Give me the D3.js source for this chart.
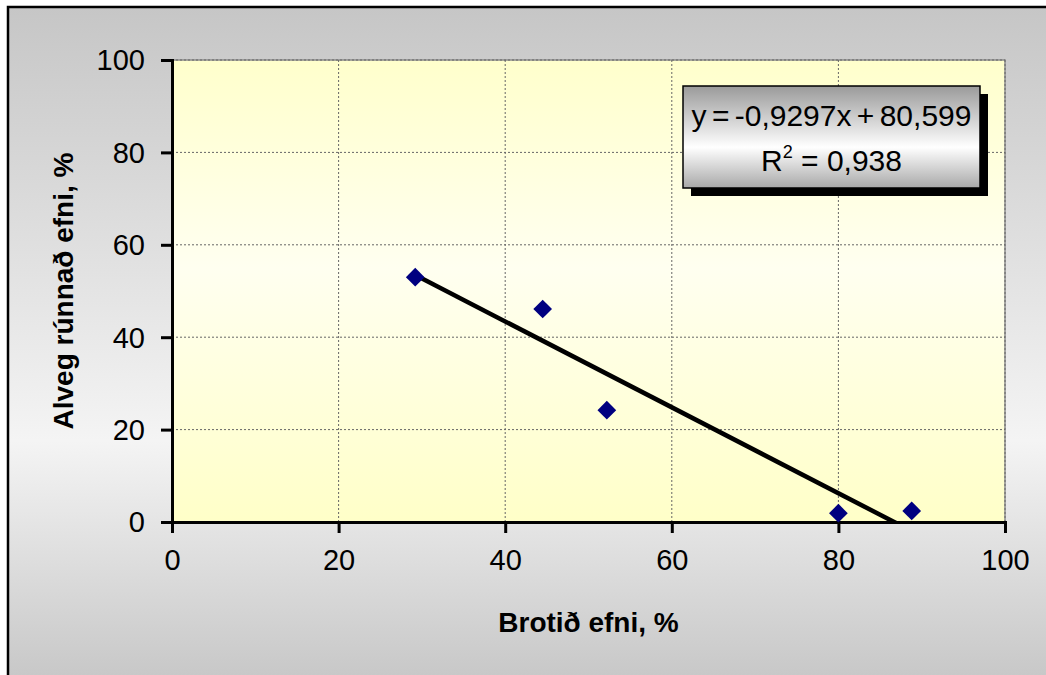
<!DOCTYPE html>
<html>
<head>
    <meta charset="utf-8">
    <title>Alveg rúnnað efni vs Brotið efni</title>
    <script src="https://d3js.org/d3.v7.min.js"></script>
    <style>
        body { margin: 0; background: #ffffff; }
        svg { display: block; font-family: "Liberation Sans", Arial, sans-serif; }
    </style>
</head>
<body>
    <div id="chart"></div>

    <script>
        // Data
        var brotid = [29.2, 44.5, 52.2, 80.0, 88.8];     // x: Brotið efni, %
        var runnad = [53.0, 46.1, 24.2, 1.9, 2.4];        // y: Alveg rúnnað efni, %
        var xTicks = [0, 20, 40, 60, 80, 100];
        var yTicks = [0, 20, 40, 60, 80, 100];

        // Linear trendline shown in the label
        var slope = -0.9297;
        var intercept = 80.599;
        var rSquared = "0,938";

        var width = 1046;
        var height = 675;
        var plot = { left: 172, top: 60, right: 1005, bottom: 522 };

        var svg = d3.select("#chart")
            .append("svg")
            .attr("width", width)
            .attr("height", height);

        var defs = svg.append("defs");

        // Gray background gradient of the chart area
        var bg = defs.append("linearGradient")
            .attr("id", "bgGrad")
            .attr("x1", 0).attr("y1", 0).attr("x2", 0).attr("y2", 1);
        bg.append("stop").attr("offset", "0").attr("stop-color", "#c6c6c6");
        bg.append("stop").attr("offset", "0.62").attr("stop-color", "#f4f4f4");
        bg.append("stop").attr("offset", "1").attr("stop-color", "#c2c2c2");

        // Light yellow plot area gradient
        var pg = defs.append("linearGradient")
            .attr("id", "plotGrad")
            .attr("x1", 0).attr("y1", 0).attr("x2", 0).attr("y2", 1);
        pg.append("stop").attr("offset", "0").attr("stop-color", "#ffffcc");
        pg.append("stop").attr("offset", "0.45").attr("stop-color", "#fffff0");
        pg.append("stop").attr("offset", "1").attr("stop-color", "#ffffc8");

        // Label box gradient
        var lg = defs.append("linearGradient")
            .attr("id", "labelGrad")
            .attr("x1", 0).attr("y1", 0).attr("x2", 0).attr("y2", 1);
        lg.append("stop").attr("offset", "0").attr("stop-color", "#9a9a9a");
        lg.append("stop").attr("offset", "0.6").attr("stop-color", "#ffffff");
        lg.append("stop").attr("offset", "1").attr("stop-color", "#a8a8a8");

        defs.append("clipPath")
            .attr("id", "plotClip")
            .append("rect")
            .attr("x", plot.left)
            .attr("y", plot.top)
            .attr("width", plot.right - plot.left)
            .attr("height", plot.bottom - plot.top);

        // Chart area
        svg.append("rect")
            .attr("x", 8)
            .attr("y", 7)
            .attr("width", 1100)
            .attr("height", 700)
            .attr("fill", "url(#bgGrad)")
            .attr("stroke", "#000")
            .attr("stroke-width", 2.5);

        // Scales
        var x = d3.scaleLinear().domain([0, 100]).range([plot.left, plot.right]);
        var y = d3.scaleLinear().domain([0, 100]).range([plot.bottom, plot.top]);

        // Plot area
        svg.append("rect")
            .attr("x", plot.left)
            .attr("y", plot.top)
            .attr("width", plot.right - plot.left)
            .attr("height", plot.bottom - plot.top)
            .attr("fill", "url(#plotGrad)")
            .attr("stroke", "#8a8a8a")
            .attr("stroke-width", 1.5);

        // Gridlines
        var grid = svg.append("g").attr("class", "grid");
        grid.selectAll("line.h")
            .data(yTicks.filter(function(d) { return d > 0; }))
            .enter()
            .append("line")
            .attr("class", "h")
            .attr("x1", plot.left)
            .attr("x2", plot.right)
            .attr("y1", function(d) { return y(d); })
            .attr("y2", function(d) { return y(d); })
            .attr("stroke", "#666")
            .attr("stroke-width", 1)
            .attr("stroke-dasharray", "2,2");
        grid.selectAll("line.v")
            .data(xTicks.filter(function(d) { return d > 0; }))
            .enter()
            .append("line")
            .attr("class", "v")
            .attr("y1", plot.top)
            .attr("y2", plot.bottom)
            .attr("x1", function(d) { return x(d); })
            .attr("x2", function(d) { return x(d); })
            .attr("stroke", "#666")
            .attr("stroke-width", 1)
            .attr("stroke-dasharray", "2,2");

        // Axes
        var xAxis = svg.append("g")
            .attr("transform", "translate(0," + plot.bottom + ")")
            .call(d3.axisBottom(x).tickValues(xTicks).tickSize(11).tickPadding(16));
        var yAxis = svg.append("g")
            .attr("transform", "translate(" + plot.left + ",0)")
            .call(d3.axisLeft(y).tickValues(yTicks).tickSize(11).tickPadding(16));

        [xAxis, yAxis].forEach(function(a) {
            a.select(".domain").attr("stroke", "#000").attr("stroke-width", 3);
            a.selectAll(".tick line").attr("stroke", "#000").attr("stroke-width", 3);
            a.selectAll(".tick text")
                .attr("fill", "#000")
                .style("font-size", "29px")
                .style("font-family", "'Liberation Sans', Arial, sans-serif");
        });
        yAxis.selectAll(".tick text").attr("dy", "0.34em");

        // Trendline, clipped to the plot area
        var xMin = d3.min(brotid), xMax = d3.max(brotid);
        svg.append("line")
            .attr("clip-path", "url(#plotClip)")
            .attr("x1", x(xMin))
            .attr("y1", y(slope * xMin + intercept))
            .attr("x2", x(xMax))
            .attr("y2", y(slope * xMax + intercept))
            .attr("stroke", "#000")
            .attr("stroke-width", 4.5);

        // Points (diamonds)
        var points = brotid.map(function(v, i) { return { x: v, y: runnad[i] }; });
        svg.selectAll("path.pt")
            .data(points)
            .enter()
            .append("path")
            .attr("class", "pt")
            .attr("d", d3.symbol().type(d3.symbolSquare).size(175))
            .attr("transform", function(d) {
                return "translate(" + x(d.x) + "," + y(d.y) + ") rotate(45)";
            })
            .attr("fill", "#000080");

        // Trendline label
        var box = { x: 683, y: 86, w: 297, h: 102 };
        svg.append("rect")
            .attr("x", box.x + 8)
            .attr("y", box.y + 8)
            .attr("width", box.w)
            .attr("height", box.h)
            .attr("fill", "#000");
        svg.append("rect")
            .attr("x", box.x)
            .attr("y", box.y)
            .attr("width", box.w)
            .attr("height", box.h)
            .attr("fill", "url(#labelGrad)")
            .attr("stroke", "#000")
            .attr("stroke-width", 1.5);

        var cx = box.x + box.w / 2;
        svg.append("text")
            .attr("x", cx)
            .attr("y", box.y + 40)
            .attr("text-anchor", "middle")
            .style("font-size", "30px")
            .style("word-spacing", "-3px")
            .text("y = " + String(slope).replace(".", ",") + "x + " + String(intercept).replace(".", ","));

        var r2 = svg.append("text")
            .attr("x", cx)
            .attr("y", box.y + 85)
            .attr("text-anchor", "middle")
            .style("font-size", "30px");
        r2.append("tspan").text("R");
        r2.append("tspan").attr("dy", -13).style("font-size", "18px").text("2");
        r2.append("tspan").attr("dy", 13).text(" = " + rSquared);

        // Axis titles
        svg.append("text")
            .attr("x", (plot.left + plot.right) / 2)
            .attr("y", 632)
            .attr("text-anchor", "middle")
            .style("font-size", "28px")
            .style("font-weight", "bold")
            .text("Brotið efni, %");

        svg.append("text")
            .attr("transform", "translate(73," + (plot.top + plot.bottom) / 2 + ") rotate(-90)")
            .attr("text-anchor", "middle")
            .style("font-size", "28px")
            .style("font-weight", "bold")
            .text("Alveg rúnnað efni, %");
    </script>
</body>
</html>
